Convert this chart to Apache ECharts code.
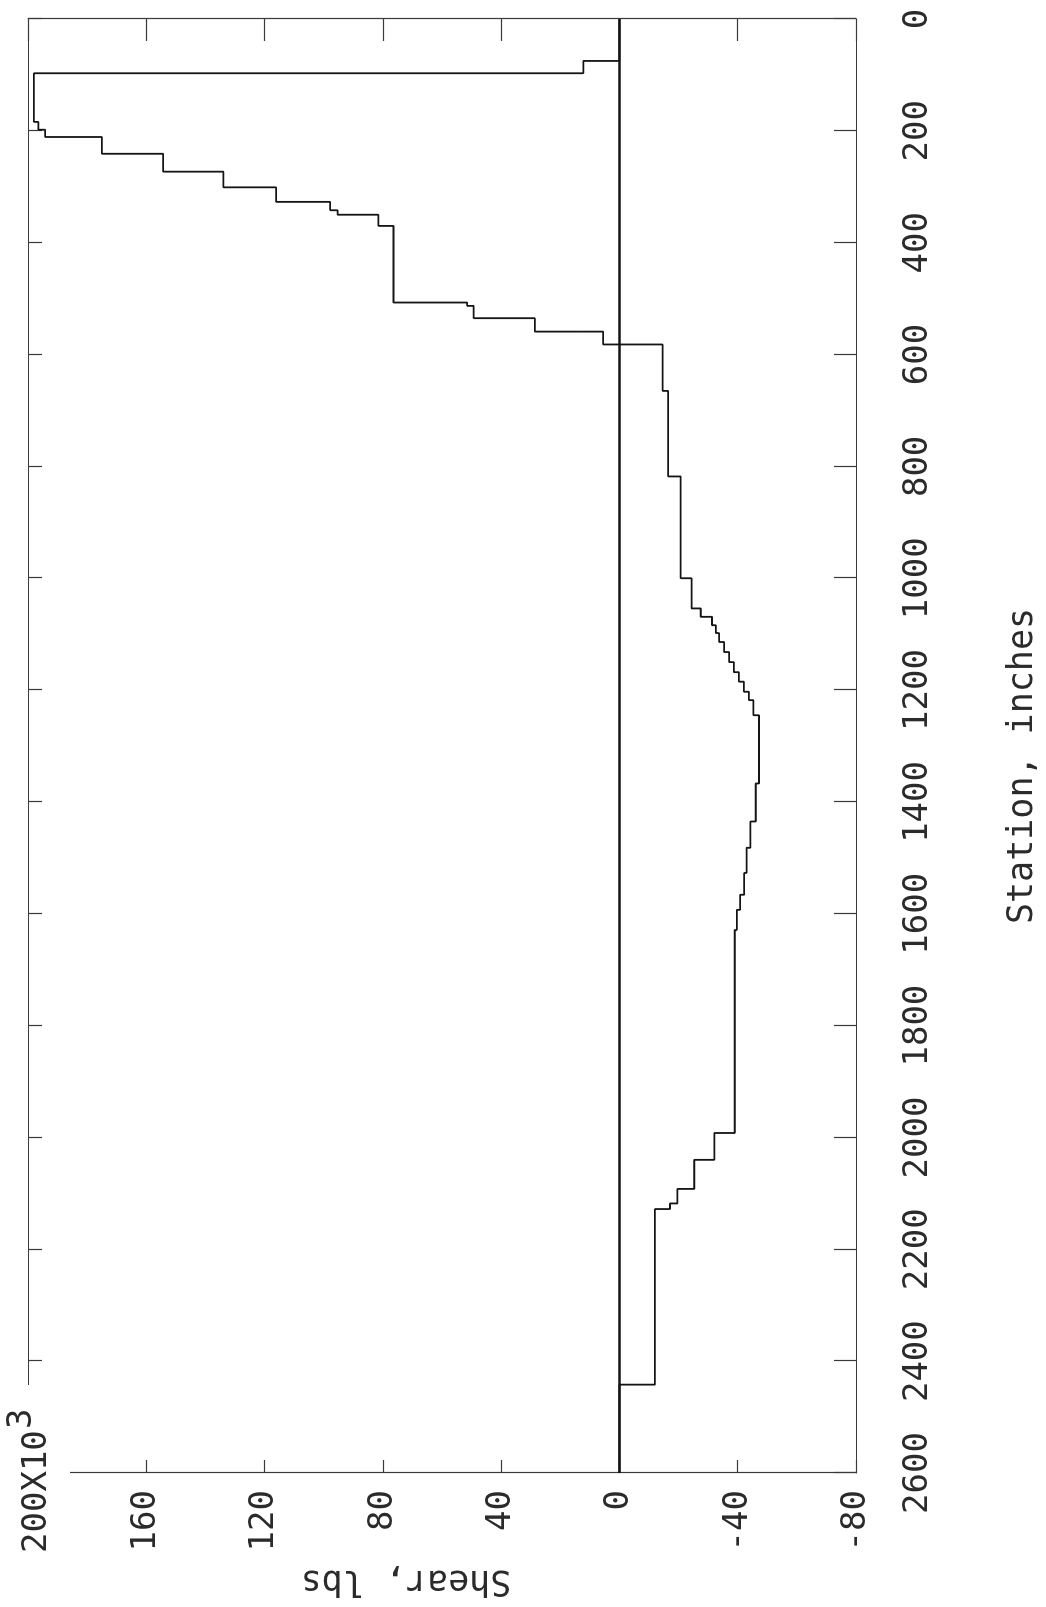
<!DOCTYPE html>
<html>
<head>
<meta charset="utf-8">
<script src="https://cdn.jsdelivr.net/npm/echarts@6/dist/echarts.min.js"></script>
<style>
  html, body { margin: 0; padding: 0; background: #fff; width: 1046px; height: 1607px; overflow: hidden; }
  /* The plot is laid out landscape and turned a quarter turn so the station axis runs down the page */
  #chart {
    position: absolute; left: 0; top: 0;
    width: 1607px; height: 1046px;
    transform-origin: 0 0;
    transform: translate(0, 1607px) rotate(-90deg);
  }
</style>
</head>
<body>
<div id="chart"></div>
<script>
// Shear diagram: station (inches) where each constant-shear run begins, and its shear (x10^3 lbs)
const stations = [0, 75, 97, 184, 198, 211, 241, 273, 301, 327, 342, 350, 370, 507, 513, 535, 559, 582,
  665, 818, 1000, 1054, 1069, 1084, 1098, 1114, 1132, 1150, 1168, 1185, 1203, 1218, 1245, 1367, 1435,
  1482, 1527, 1566, 1593, 1629, 1992, 2040, 2092, 2118, 2128, 2442, 2600];
const shear = [0, 12.2, 198, 196.5, 194.2, 175, 154.3, 133.9, 116.1, 97.8, 95.3, 81.5, 76.4, 51.5, 49.3,
  28.6, 5.5, -14.6, -16.5, -20.7, -24.4, -27.5, -31.3, -32.6, -33.7, -35.4, -37.1, -38.7, -40.4, -42.1,
  -43.8, -45.3, -47.2, -46.1, -44.3, -43.0, -42.2, -40.8, -39.7, -39.0, -32.1, -25.3, -19.6, -17.1,
  -12.0, 0, 0];

// Axis tick values
const stationTicks = [0, 200, 400, 600, 800, 1000, 1200, 1400, 1600, 1800, 2000, 2200, 2400, 2600];
const shearTicks = [-80, -40, 0, 40, 80, 120, 160, 200];

const FONT = 'DejaVu Sans Mono';
const INK = '#2b2b2b';
const frameLine = { color: '#3a3a3a', width: 1.2 };

const stMin = stationTicks[0], stMax = stationTicks[stationTicks.length - 1];
const stStep = stationTicks[1] - stationTicks[0];
const shMin = shearTicks[0], shMax = shearTicks[shearTicks.length - 1];
const shStep = shearTicks[1] - shearTicks[0];

function stationAxis(pos, tickLen, withLabels) {
  const ax = {
    type: 'value', position: pos, min: stMin, max: stMax, interval: stStep, inverse: true,
    axisLine: { show: true, onZero: false, lineStyle: frameLine },
    axisTick: { show: true, inside: true, length: tickLen, lineStyle: frameLine },
    splitLine: { show: false },
    axisLabel: { show: withLabels, margin: 45, fontFamily: FONT, fontSize: 34, color: INK,
      showMinLabel: true, showMaxLabel: true,
      formatter: v => String(v) }
  };
  if (withLabels) {
    ax.name = 'Station, inches';
    ax.nameLocation = 'middle';
    ax.nameGap = 149;
    ax.nameTextStyle = { fontFamily: FONT, fontSize: 35, color: INK, padding: [0, 40, 0, 0] };
  }
  return ax;
}

function shearAxis(pos, tickLen, withLabels) {
  const ax = {
    type: 'value', position: pos, min: shMin, max: shMax, interval: shStep,
    axisLine: { show: true, onZero: false, lineStyle: frameLine },
    axisTick: { show: true, inside: true, length: tickLen, lineStyle: frameLine },
    splitLine: { show: false },
    axisLabel: { show: withLabels, margin: 17, fontFamily: FONT, fontSize: 34, color: INK,
      showMinLabel: true, showMaxLabel: true,
      formatter: v => (v === shMax ? '' : String(v)) }
  };
  if (withLabels) {
    ax.name = 'Shear, lbs';
    ax.nameLocation = 'middle';
    ax.nameRotate = 90;
    ax.nameGap = 84;
    ax.nameTextStyle = { fontFamily: FONT, fontSize: 35, color: INK, padding: [0, 0, 0, 72] };
  }
  return ax;
}

const chart = echarts.init(document.getElementById('chart'), null, { renderer: 'canvas' });

chart.setOption({
  animation: false,
  backgroundColor: '#ffffff',
  grid: { left: 134, right: 19, top: 28, bottom: 190, containLabel: false },
  xAxis: [stationAxis('bottom', 22, true), stationAxis('top', 14, false)],
  yAxis: [shearAxis('left', 13, true), shearAxis('right', 22, false)],
  series: [{
    type: 'line',
    xAxisIndex: 0, yAxisIndex: 0,
    step: 'end',
    symbol: 'none',
    data: stations.map((s, i) => [s, shear[i]]),
    lineStyle: { color: '#141414', width: 1.8 },
    markLine: {
      silent: true, symbol: 'none',
      label: { show: false },
      lineStyle: { color: '#141414', width: 2.6, type: 'solid' },
      data: [{ yAxis: 0 }]
    }
  }],
  graphic: [
    // top scale label with the multiplier, sitting in the corner of the frame
    { type: 'rect', z: 100, shape: { x: 122, y: 4, width: 100, height: 66 }, style: { fill: '#ffffff' } },
    { type: 'text', z: 101, x: 54, y: 37,
      style: { text: shMax + 'X10', fontFamily: FONT, fontSize: 34, fill: INK, align: 'left', verticalAlign: 'middle' } },
    { type: 'text', z: 101, x: 178, y: 22,
      style: { text: '3', fontFamily: FONT, fontSize: 34, fill: INK, align: 'left', verticalAlign: 'middle' } }
  ]
});
</script>
</body>
</html>
